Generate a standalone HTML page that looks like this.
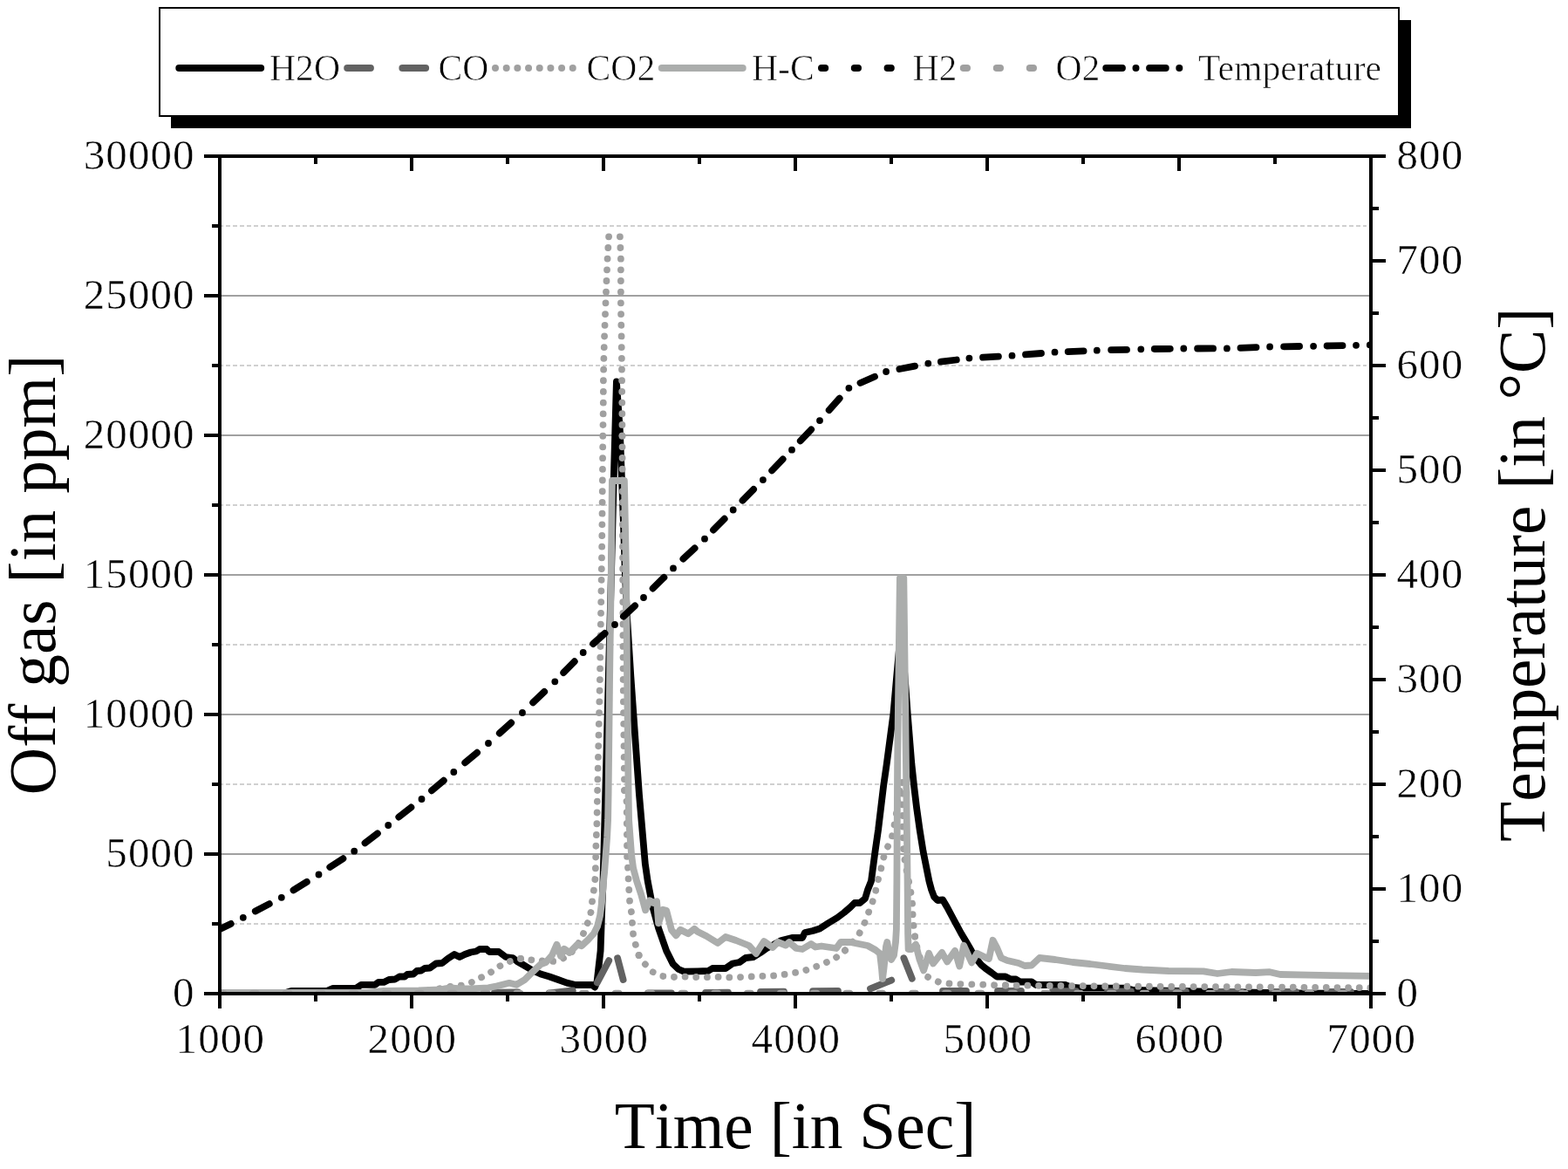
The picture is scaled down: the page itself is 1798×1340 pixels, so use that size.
<!DOCTYPE html>
<html lang="en"><head><meta charset="utf-8"><title>Off gas and temperature over time</title>
<style>html,body{margin:0;padding:0;background:#fff}body{width:1798px;height:1340px;overflow:hidden}svg{display:block}text{font-family:"Liberation Serif",serif;fill:#000}</style>
</head><body>
<svg width="1798" height="1340" viewBox="0 0 1798 1340">
<rect width="1798" height="1340" fill="#fff"/>
<g stroke="#a0a0a0" stroke-width="2" fill="none">
<line x1="252" y1="979" x2="1572" y2="979"/>
<line x1="252" y1="819" x2="1572" y2="819"/>
<line x1="252" y1="659" x2="1572" y2="659"/>
<line x1="252" y1="499" x2="1572" y2="499"/>
<line x1="252" y1="339" x2="1572" y2="339"/>
</g>
<g stroke="#d0d0d0" stroke-width="2" stroke-dasharray="5 3" fill="none">
<line x1="251" y1="1059" x2="1567" y2="1059"/>
<line x1="251" y1="899" x2="1567" y2="899"/>
<line x1="251" y1="739" x2="1567" y2="739"/>
<line x1="251" y1="579" x2="1567" y2="579"/>
<line x1="251" y1="419" x2="1567" y2="419"/>
<line x1="251" y1="259" x2="1567" y2="259"/>
</g>
<clipPath id="plotclip"><rect x="252" y="179" width="1320" height="962"/></clipPath>
<g clip-path="url(#plotclip)" fill="none" stroke-width="7.8" stroke-linecap="round" stroke-linejoin="round">
<path d="M250 1139.5L326 1138.5L334 1135.9L375 1135.9L382 1132.9L408 1132.9L414 1128.9L430 1128.9L434 1125.9L440 1125.9L446 1123L453 1122.5L458 1119.5L464 1119.5L467 1117L474 1116.5L478 1113L483 1112.5L487 1110L493 1109.5L500 1104.5L507 1104L514 1098.5L521 1094L527 1097L533 1094L540 1091.5L546 1090.5L550 1088L558 1088L561 1091L572 1091L580 1097L588 1098L593 1102L600 1106L610 1112L620 1116.5L630 1119.5L640 1123L650 1126.6L660 1129L679 1129L682.1 1131.6L684.6 1125L686.3 1110L688.6 1090L690.3 1040L691.3 1018L694.2 910L697.8 776L700.8 664L704 540L705.3 494L706.9 437.5L710.9 494L712.8 545L714.9 598L716.5 648L718.9 705L723.4 776L732.9 910L739.8 990L742.7 1010L748.5 1040L755.1 1064L764.2 1090L771.7 1105L778 1111L784.2 1113.6L800 1113.4L812 1113L817 1110L832 1110L840 1104.5L848 1103L855 1098L864 1097L872 1092L879 1087L887 1083L896 1078L908 1075L920 1075L923 1069L932 1067L940 1064.5L950 1058L960 1052L968 1046L975 1040L980 1035L986 1035L992 1030L995 1020L999 1010L1003.5 976L1007.1 951L1010.1 926L1013.1 901L1016.7 876L1024.3 819L1030.3 752L1033.2 720L1038.8 792L1040.8 819L1045.4 876L1048.1 901L1051.1 926L1054.6 951L1058.6 976L1065.4 1010L1068.1 1020L1071.1 1028L1075.1 1032L1081.1 1031.5L1086.1 1040L1094.1 1055L1102.2 1070L1108.2 1080L1114 1090L1120.2 1100L1125.2 1106L1130 1110L1137 1115L1143 1119.5L1153 1119.5L1159 1122.5L1165 1122.5L1170 1125.5L1183 1125.5L1188 1129L1222 1129L1228 1131.6L1240 1132.6L1290 1132.6L1300 1135L1400 1137L1480 1138.5L1575 1139" stroke="#000"/>
<path d="M252 1138.4L279 1138.4M315 1138.4L342 1138.4M378 1138.4L405 1138.4M441 1138.4L468 1138.4M504 1138.4L531 1138.4M567 1137.7L594 1137.5M629.8 1138.5L656.8 1135.5M684.8 1126.3L698.2 1101.1M708.1 1098.2L714.6 1123M743 1138.4L770 1138.4M809 1137.8L835 1137.6M872 1136.8L899 1136.6M932 1136.2L961 1135.8M998 1133.3L1022.3 1123.6M1036.4 1098.2L1045.8 1121.8M1081 1136L1108 1136M1144 1136L1171 1136M1207 1136.2L1234 1136.2M1270 1136.5L1297 1136.5M1333 1136.7L1360 1136.7M1396 1137L1423 1137M1459 1137L1486 1137M1522 1137L1549 1137" stroke="#626262"/>
<path d="M698.1 271.3L696.6 295.8L695.5 321.6L694.5 346.9L693.6 371.6L693.1 384.8L692.4 410L691.9 435.2L691.8 460.9L691.5 486.3L691.3 498.9L690.2 626L687.9 779L685.1 906" stroke="#a0a0a0" stroke-dasharray="0.01 12.688"/>
<path d="M685.1 906L684.4 944.2L683.4 969.5L682.9 995L682.4 1007.6L680.9 1020.4L679.1 1033L677.6 1045.5L674 1057.5L669 1070" stroke="#a0a0a0" stroke-dasharray="0.01 12.747"/>
<path d="M669 1070L662 1084L654 1093L645 1099L635 1102L622.5 1101.5L609.9 1100.4L597 1098.9" stroke="#a0a0a0" stroke-dasharray="0.01 12.432"/>
<path d="M597 1098.9L584.5 1102L572.6 1107.6L561.9 1115.1L551.9 1120.4L540.9 1125.9" stroke="#a0a0a0" stroke-dasharray="0.01 12.533"/>
<path d="M540.9 1125.9L529 1129.6L517 1130.8L500 1134L480 1136.5L440 1138.5L252 1138.5" stroke="#a0a0a0" stroke-dasharray="0.01 12.600"/>
<path d="M710.9 271.3L711.4 283.2L711.9 295.8L711.9 346.9L712.3 371.6L712.6 384.8L712.9 410.5L713.1 435.8L713.3 461.4L713.5 499.6" stroke="#a0a0a0" stroke-dasharray="0.01 12.675"/>
<path d="M713.5 499.6L714.6 779L716.1 906" stroke="#a0a0a0" stroke-dasharray="0.01 12.690"/>
<path d="M716.1 906L718.6 918.8L719.1 983L720.1 995.6L720.6 1008L721.3 1020.9L722.1 1033.6L724.1 1046.5L725.1 1059L726.1 1071.5L729.1 1084L732.6 1095" stroke="#a0a0a0" stroke-dasharray="0.01 12.688"/>
<path d="M732.6 1095L739.6 1105L748.1 1114L760.2 1119L772.7 1120L785.7 1119.6L798.2 1120" stroke="#a0a0a0" stroke-dasharray="0.01 12.612"/>
<path d="M798.2 1120L811 1120.1L823.7 1119.9L836.5 1120.4L848.9 1120.1L861.9 1119.4L874.4 1118.9L887.1 1118.4" stroke="#a0a0a0" stroke-dasharray="0.01 12.698"/>
<path d="M887.1 1118.4L899.9 1116.9L912.1 1114.9L924.1 1112.1L936 1107.9L947.2 1103.4L959 1097.4L969 1089.4" stroke="#a0a0a0" stroke-dasharray="0.01 12.605"/>
<path d="M969 1089.4L977.5 1080L985.5 1069.8L991.5 1057.8L996 1045.8L1000.5 1033.8L1004 1021.8L1007 1008" stroke="#a0a0a0" stroke-dasharray="0.01 13.034"/>
<path d="M1007 1008L1010 996.9L1012.6 984.6L1016.9 972.9L1022.6 960.4L1025.1 948L1027.5 935L1029.5 920L1031.5 905L1033 893.5" stroke="#a0a0a0" stroke-dasharray="0.01 13.102"/>
<path d="M1034.6 897L1034.6 909L1034.7 921.5L1035 934.5L1035.2 947.5L1036 973" stroke="#a0a0a0" stroke-dasharray="0.01 12.660"/>
<path d="M1036 973L1038 990L1041 1005L1044 1020L1046.1 1036L1046.6 1048.5L1047.6 1061L1049.1 1073.5" stroke="#a0a0a0" stroke-dasharray="0.01 12.676"/>
<path d="M1049.1 1073.5L1051.5 1086L1055 1098L1059 1109L1064.1 1119.9" stroke="#a0a0a0" stroke-dasharray="0.01 12.232"/>
<path d="M1064.1 1119.9L1076.9 1125.9L1089.6 1127.6L1102.2 1128.1L1115 1128.3L1127.4 1128.6L1140.5 1129.3L1153 1129.5" stroke="#a0a0a0" stroke-dasharray="0.01 12.902"/>
<path d="M1153 1129.5L1305.2 1130.7" stroke="#a0a0a0" stroke-dasharray="0.01 12.674"/>
<path d="M1305.2 1130.7L1400 1131.2L1520.8 1132" stroke="#a0a0a0" stroke-dasharray="0.01 12.673"/>
<path d="M1520.8 1132L1571.4 1132.2" stroke="#a0a0a0" stroke-dasharray="0.01 12.640"/>
<path d="M250 1137.9L420 1137.9L435 1136.3L440 1136L480 1135.3L505 1134.3L517 1132.3L528 1133.3L540 1133.3L560 1132.3L570 1130.3L584 1126.8L592 1128.8L602 1122.8L610 1114.8L620 1105.3L626 1103L633 1095L638.5 1082.7L643 1096L647 1087.8L653 1092L662 1082.7L667 1084.2L674 1077.7L681 1070L685 1062L688 1050L690 1035L692 1010L693.1 1000L694.6 980L696.1 960L697.1 940L697.6 910L699.1 776L700.9 650L701.9 551L715.9 551L717.9 650L719.1 776L720.6 910L721.1 940L722.6 960L724.1 980L726.1 995L730.1 1010L735.1 1025L740.1 1043.3L745.1 1032.2L749.1 1035L753.1 1033.2L755.1 1058.3L760.2 1042.7L764.2 1043.7L770 1066L775.2 1072.3L780.2 1065.7L789.2 1070.3L796.2 1064.7L800 1068L810 1073L823 1081L832 1074L844 1078L859 1084L867 1093L876 1079L886 1086L892 1080L901 1083.5L905 1080L913 1087L920 1088L930 1082L935 1085.5L942 1084.5L959 1087L964 1080L975 1080L985 1082L995 1084L1004 1089L1009 1093L1011 1110L1012 1122L1013.5 1110L1016 1085L1017.3 1080L1019 1090L1022 1100L1025 1095L1027 1080L1027.9 1065L1028.4 1010L1029.1 880L1029.9 813L1031.9 662.6L1036.3 662.6L1038.2 813L1039 880L1040.6 1010L1041.1 1070L1041.6 1088L1045.1 1088L1050.1 1082.7L1054.5 1100L1059.1 1112.4L1065.1 1092.8L1070.1 1104.4L1080.1 1091.8L1086.1 1102.4L1095.1 1089.8L1100.2 1107.4L1105.2 1083.8L1114.2 1103.4L1120.2 1092.8L1130 1097.5L1134 1099L1138.5 1077.7L1143 1086L1148 1098L1155 1101L1168 1104L1175 1107L1183 1106.5L1192 1098L1210 1100L1230 1103L1250 1105L1270 1107.5L1290 1110L1310 1111.5L1340 1113L1380 1113.3L1396 1116L1412 1114L1440 1115L1456 1114.2L1468 1117L1500 1117.6L1540 1118.4L1575 1119" stroke="#abadac"/>
<path d="M252 1139.6H1572" stroke="#000" stroke-dasharray="4.2 33.6"/>
<path d="M252 1138.6H1572" stroke="#a0a0a0" stroke-dasharray="4.2 33.6"/>
<path d="M248.6 1066.9L264.7 1058.9M234.5 1074h0.01M292.8 1044.5L308.8 1036.1M278.8 1051.8h0.01M336.5 1020.4L351.8 1010.9M322.8 1028.8h0.01M378.3 994L393.4 984.2M365.5 1002.5h0.01M418.5 966.3L432.9 955.4M406.2 975.7h0.01M457.3 936.5L471.4 925.5M445.2 946h0.01M495 906.3L508.8 894.7M483.5 916h0.01M533.2 874.3L547.1 862.7M520.3 885h0.01M572.8 840.5L586.2 828.5M560 852h0.01M611.1 805.4L624.2 792.9M599 817h0.01M646.2 771.1L658.8 758.2M636.3 781.3h0.01M680.1 738L693.6 726M668.7 748h0.01M714.9 706.7L728.1 694.3M705 716h0.01M748.6 674.5L761.4 661.9M738 685h0.01M783.4 640.7L796.6 628.4M772 651.4h0.01M818 607.5L830.7 594.7M808 617.7h0.01M851.5 573.7L864.1 560.9M840.7 584.5h0.01M885.2 539.4L897.7 526.4M874.9 550.1h0.01M917.8 505.4L930.2 492.4M908 515.7h0.01M950.7 470.2L962.7 456.7M940 482.1h0.01M986.5 439L1003 431.8M973.4 444.8h0.01M1031.4 423L1049 419.6M1016.1 426h0.01M1078.9 414.7L1096.8 412.5M1064.3 416.6h0.01M1127 409.7L1144.9 408.6M1111.4 410.6h0.01M1176 406.4L1194 405M1160.5 407.7h0.01M1224.7 403.1L1242.6 402.3M1209.5 403.7h0.01M1274.1 401.2L1292 400.8M1257.8 401.7h0.01M1323.8 400L1341.8 399.8M1308.3 400.3h0.01M1373.1 399.5L1391.1 399.4M1357.3 399.5h0.01M1422.5 398.8L1440.5 398.1M1406.9 399.4h0.01M1472.1 397.3L1490.1 397M1456.1 397.5h0.01M1521.6 396.5L1539.5 396.1M1506.1 396.8h0.01M1570.8 395.5L1588.7 395.3M1555 395.8h0.01" stroke="#000" stroke-width="7.8"/>
</g>
<g stroke="#000" stroke-width="4" fill="none" stroke-linecap="butt">
<path d="M234 179H1589M234 1139H1589M252 177V1156M1572 177V1156"/>
<path d="M362 1139v9M362 179v9M472 1139v17M472 179v17M582 1139v9M582 179v9M692 1139v17M692 179v17M802 1139v9M802 179v9M912 1139v17M912 179v17M1022 1139v9M1022 179v9M1132 1139v17M1132 179v17M1242 1139v9M1242 179v9M1352 1139v17M1352 179v17M1462 1139v9M1462 179v9M252 1059h-9M252 979h-18M252 899h-9M252 819h-18M252 739h-9M252 659h-18M252 579h-9M252 499h-18M252 419h-9M252 339h-18M252 259h-9M1572 1079h9M1572 1019h17M1572 959h9M1572 899h17M1572 839h9M1572 779h17M1572 719h9M1572 659h17M1572 599h9M1572 539h17M1572 479h9M1572 419h17M1572 359h9M1572 299h17M1572 239h9"/>
</g>
<g font-size="49px" letter-spacing="1.1" stroke="#fff" stroke-width="0.5">
<text x="252.8" y="1207" text-anchor="middle">1000</text>
<text x="472.8" y="1207" text-anchor="middle">2000</text>
<text x="692.8" y="1207" text-anchor="middle">3000</text>
<text x="912.8" y="1207" text-anchor="middle">4000</text>
<text x="1132.8" y="1207" text-anchor="middle">5000</text>
<text x="1352.8" y="1207" text-anchor="middle">6000</text>
<text x="1572.8" y="1207" text-anchor="middle">7000</text>
<text x="223.7" y="1154" text-anchor="end">0</text>
<text x="223.7" y="994" text-anchor="end">5000</text>
<text x="223.7" y="834" text-anchor="end">10000</text>
<text x="223.7" y="674" text-anchor="end">15000</text>
<text x="223.7" y="514" text-anchor="end">20000</text>
<text x="223.7" y="354" text-anchor="end">25000</text>
<text x="223.7" y="194" text-anchor="end">30000</text>
<text x="1601.5" y="1153.5">0</text>
<text x="1601.5" y="1033.5">100</text>
<text x="1601.5" y="913.5">200</text>
<text x="1601.5" y="793.5">300</text>
<text x="1601.5" y="673.5">400</text>
<text x="1601.5" y="553.5">500</text>
<text x="1601.5" y="433.5">600</text>
<text x="1601.5" y="313.5">700</text>
<text x="1601.5" y="193.5">800</text>
</g>
<g font-size="75.4px" style="font-kerning:none">
<text x="912" y="1315.5" text-anchor="middle">Time [in Sec]</text>
<text transform="translate(62.5 659) rotate(-90)" text-anchor="middle">Off gas [in ppm]</text>
<text transform="translate(1771 658.7) rotate(-90)" text-anchor="middle">Temperature [in °C]</text>
</g>
<rect x="196" y="23" width="1422" height="124" fill="#000"/>
<rect x="183" y="9" width="1421" height="124" fill="#fff" stroke="#000" stroke-width="2"/>
<g fill="none" stroke-width="8" stroke-linecap="round">
<path d="M205.3 78H299.2" stroke="#000"/>
<path d="M398.2 78H492" stroke="#626262" stroke-dasharray="26.7 36.5"/>
<path d="M568 78H660" stroke="#a0a0a0" stroke-dasharray="0.01 12.67"/>
<path d="M758.8 78H851.7" stroke="#abadac"/>
<path d="M942 78H1030" stroke="#000" stroke-dasharray="4.2 33.6"/>
<path d="M1104.8 78H1190" stroke="#a0a0a0" stroke-dasharray="4.2 33.8"/>
<path d="M1268.3 78H1353" stroke="#000" stroke-dasharray="18.6 15.6 0.01 15.6"/>
</g>
<g font-size="41.7px" stroke="#fff" stroke-width="0.7">
<text x="309" y="92">H2O</text>
<text x="502.5" y="92">CO</text>
<text x="672.5" y="92">CO2</text>
<text x="862" y="92">H-C</text>
<text x="1046.5" y="92">H2</text>
<text x="1210.5" y="92">O2</text>
<text x="1374" y="92">Temperature</text>
</g>
</svg>
</body></html>
